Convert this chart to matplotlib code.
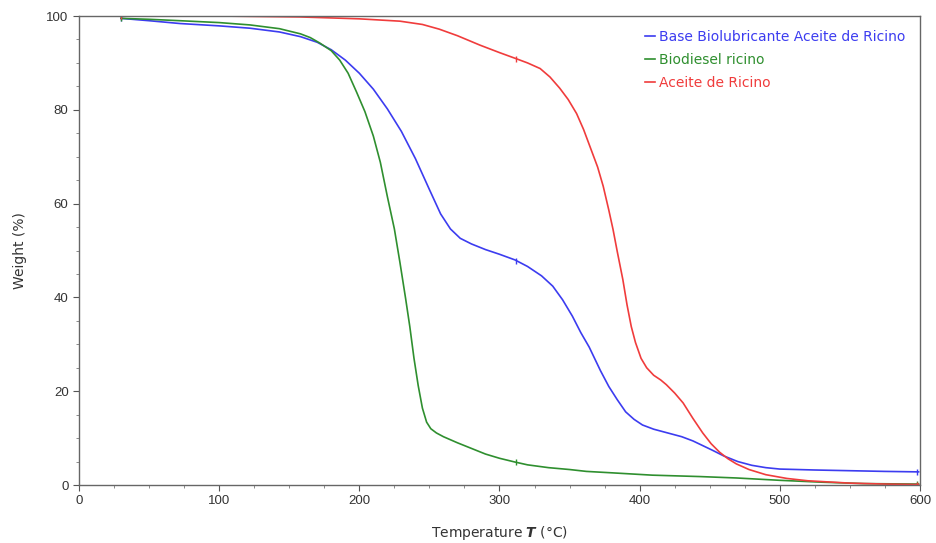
import numpy as np
import matplotlib
matplotlib.use("Agg")
import matplotlib.pyplot as plt
from matplotlib.ticker import MultipleLocator

plt.rcParams['font.family'] = ['DejaVu Sans']
plt.rcParams['mathtext.fontset'] = 'custom'
plt.rcParams['mathtext.it'] = 'DejaVu Sans:italic:bold'

# Base Biolubricante Aceite de Ricino
base_T = [30, 50, 72, 100, 122, 143, 158, 170, 180, 190, 200, 210, 220, 230, 240, 250, 258,
          265, 272, 280, 290, 300, 311, 320, 330, 338, 345, 352, 358, 364, 372, 378, 384,
          390, 396, 402, 410, 420, 430, 438, 445, 452, 460, 470, 480, 490, 500, 525, 550,
          575, 599]
base_W = [99.5, 99.0, 98.4, 97.9, 97.4, 96.6, 95.6, 94.4, 92.8, 90.6, 87.8, 84.4, 80.2, 75.4,
          69.6, 63.0, 57.8, 54.6, 52.6, 51.4, 50.2, 49.2, 48.0, 46.6, 44.6, 42.4, 39.5, 36.0,
          32.5, 29.4, 24.4, 21.0, 18.2, 15.6, 14.0, 12.8, 11.9, 11.1, 10.3, 9.4, 8.4, 7.4,
          6.2, 5.0, 4.2, 3.7, 3.4, 3.2, 3.05, 2.9, 2.8]

# Biodiesel ricino
bio_T = [30, 50, 72, 100, 122, 143, 158, 165, 172, 180, 186, 192, 198, 204, 210, 215, 220,
         225, 229, 233, 236, 239, 242, 245, 248, 251, 255, 260, 270, 280, 290, 300, 311, 320,
         335, 350, 362, 380, 409, 443, 469, 500, 530, 560, 599]
bio_W = [99.5, 99.3, 99.0, 98.6, 98.1, 97.3, 96.2, 95.4, 94.2, 92.6, 90.6, 87.8, 83.8, 79.6,
         74.4, 68.8, 61.5, 54.6, 47.4, 39.8, 33.8, 27.0, 21.2, 16.4, 13.4, 12.0, 11.1, 10.3,
         9.0, 7.8, 6.6, 5.7, 4.9, 4.3, 3.7, 3.3, 2.9, 2.6, 2.1, 1.8, 1.5, 1.0, 0.6, 0.3, 0.2]

# Aceite de Ricino
ric_T = [30, 100, 158, 200, 229, 245, 257, 270, 286, 300, 311, 320, 329, 336, 343, 349, 355,
         360, 365, 370, 374, 378, 381, 384, 388, 391, 394, 397, 401, 405, 410, 415, 419, 425,
         431, 438, 445, 451, 457, 463, 469, 478, 490, 505, 520, 550, 575, 599]
ric_W = [100.0, 100.0, 99.8, 99.4, 98.9, 98.2, 97.2, 95.8, 93.8, 92.2, 91.0, 90.0, 88.8, 87.0,
         84.6, 82.2, 79.2, 75.8, 71.8, 67.8, 63.7, 58.6, 54.5, 49.8, 43.8, 38.4, 33.8, 30.4,
         27.0, 25.0, 23.4, 22.4, 21.4, 19.6, 17.5, 14.2, 11.1, 8.8, 7.0, 5.6, 4.5, 3.3, 2.2,
         1.4, 0.9, 0.4, 0.2, 0.1]

series = [
    ("Base Biolubricante Aceite de Ricino", base_T, base_W, "#3c3cf0"),
    ("Biodiesel ricino", bio_T, bio_W, "#2f8f2f"),
    ("Aceite de Ricino", ric_T, ric_W, "#f03c3c"),
]

fig = plt.figure(figsize=(9.36, 5.43), dpi=100)
ax = fig.add_axes([0.0844, 0.1068, 0.8985, 0.8637])

for label, T, W, color in series:
    T = np.array(T, dtype=float)
    W = np.array(W, dtype=float)
    ax.plot(T, W, color=color, lw=1.2, label=label, solid_joinstyle='round')
    # small marker ticks at start, ~312 and end
    for tm in (30, 312, 598):
        ax.plot([tm], [np.interp(tm, T, W)], marker='|', color=color, ms=5, mew=1.0)

ax.set_xlim(0, 600)
ax.set_ylim(0, 100)
ax.xaxis.set_major_locator(MultipleLocator(100))
ax.xaxis.set_minor_locator(MultipleLocator(25))
ax.yaxis.set_major_locator(MultipleLocator(20))
ax.yaxis.set_minor_locator(MultipleLocator(5))
ax.tick_params(which='major', direction='out', length=4, width=0.8, colors='#555555',
               labelcolor='#333333', labelsize=9.5)
ax.tick_params(which='minor', direction='out', length=2, width=0.6, colors='#777777')
for lab in ax.get_xticklabels() + ax.get_yticklabels():
    lab.set_family('Liberation Sans')
for sp in ax.spines.values():
    sp.set_color('#666666')
    sp.set_linewidth(1.0)

ax.set_xlabel("Temperature $T$ (°C)", fontsize=10, color='#333333', labelpad=12)
ax.set_ylabel("Weight (%)", fontsize=10, color='#333333', labelpad=14)

leg = ax.legend(loc='upper right', bbox_to_anchor=(0.989, 0.982), borderaxespad=0,
                frameon=False, fontsize=10, handlelength=0.7, handletextpad=0.3,
                labelspacing=0.65)
for text, line in zip(leg.get_texts(), leg.get_lines()):
    text.set_color(line.get_color())

fig.savefig("out.png", dpi=100)
